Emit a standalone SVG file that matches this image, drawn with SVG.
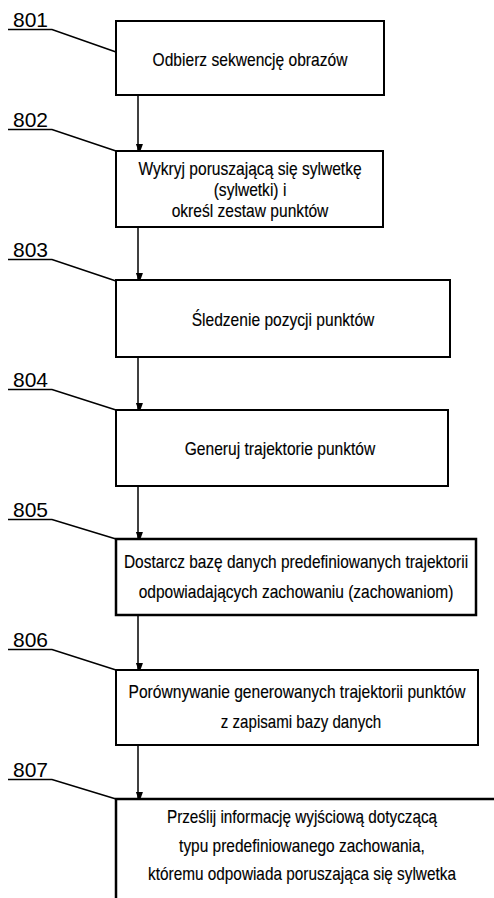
<svg xmlns="http://www.w3.org/2000/svg" width="494" height="898" viewBox="0 0 494 898">
<defs>
<style>
.box{fill:#fff;stroke:#000;stroke-width:2}
.t{font-family:"Liberation Sans",Arial,sans-serif;font-size:18px;fill:#000;text-anchor:middle;stroke:#000;stroke-width:0.15}
.lbl{font-family:"Liberation Sans",Arial,sans-serif;font-size:21px;fill:#000}
.ul{stroke:#000;stroke-width:1.6;fill:none}
.ar{stroke:#000;stroke-width:1.5;fill:none}
</style>
<marker id="ah" markerWidth="10" markerHeight="14" refX="10" refY="7" orient="auto" markerUnits="userSpaceOnUse" viewBox="0 0 14 10">
<path d="M0,0 L14,5 L0,10 Z" fill="#000"/>
</marker>
</defs>
<rect width="494" height="898" fill="#fff"/>
<g id="connectors">
<line class="ar" x1="138" y1="95" x2="138" y2="151" marker-end="url(#ah)"/>
<line class="ar" x1="138" y1="227" x2="138" y2="280" marker-end="url(#ah)"/>
<line class="ar" x1="138" y1="357" x2="138" y2="410" marker-end="url(#ah)"/>
<line class="ar" x1="138" y1="486" x2="138" y2="539" marker-end="url(#ah)"/>
<line class="ar" x1="138" y1="615" x2="138" y2="670" marker-end="url(#ah)"/>
<line class="ar" x1="138" y1="745" x2="138" y2="799" marker-end="url(#ah)"/>
</g>
<g id="n801">
<path class="ul" d="M8,29.5 H52 L116,52"/>
<text class="lbl" x="13" y="27">801</text>
<rect class="box" x="116" y="21" width="268" height="74"/>
<text class="t" transform="translate(250,66) scale(0.866,1)">Odbierz sekwencję obrazów</text>
</g>
<g id="n802">
<path class="ul" d="M8,129.5 H52 L116,151"/>
<text class="lbl" x="13" y="127">802</text>
<rect class="box" x="116" y="151" width="267" height="76"/>
<text class="t" transform="translate(250,175) scale(0.866,1)">Wykryj poruszającą się sylwetkę</text>
<text class="t" transform="translate(250,196) scale(0.866,1)">(sylwetki) i</text>
<text class="t" transform="translate(250,217) scale(0.866,1)">określ zestaw punktów</text>
</g>
<g id="n803">
<path class="ul" d="M8,259.5 H52 L116,281"/>
<text class="lbl" x="13" y="257">803</text>
<rect class="box" x="116" y="280" width="334" height="77"/>
<text class="t" transform="translate(283,326) scale(0.866,1)">Śledzenie pozycji punktów</text>
</g>
<g id="n804">
<path class="ul" d="M8,389.5 H52 L116,410"/>
<text class="lbl" x="13" y="387">804</text>
<rect class="box" x="116" y="410" width="332" height="76"/>
<text class="t" transform="translate(280,455) scale(0.866,1)">Generuj trajektorie punktów</text>
</g>
<g id="n805">
<path class="ul" d="M8,519.5 H52 L116,539"/>
<text class="lbl" x="13" y="517">805</text>
<rect class="box" x="116" y="539" width="360" height="76" style="stroke-width:2.5"/>
<text class="t" transform="translate(296,568) scale(0.858,1)">Dostarcz bazę danych predefiniowanych trajektorii</text>
<text class="t" transform="translate(296,598) scale(0.862,1)">odpowiadających zachowaniu (zachowaniom)</text>
</g>
<g id="n806">
<path class="ul" d="M8,649.5 H52 L116,670"/>
<text class="lbl" x="13" y="647">806</text>
<rect class="box" x="116" y="670" width="362" height="75"/>
<text class="t" transform="translate(297,698) scale(0.866,1)">Porównywanie generowanych trajektorii punktów</text>
<text class="t" transform="translate(301,728) scale(0.84,1)">z zapisami bazy danych</text>
</g>
<g id="n807">
<path class="ul" d="M8,779.5 H52 L116,799"/>
<text class="lbl" x="13" y="777">807</text>
<path d="M494,799 H116 V898" style="fill:#fff;stroke:#000;stroke-width:2.5"/>
<text class="t" transform="translate(302,823) scale(0.85,1)">Prześlij informację wyjściową dotyczącą</text>
<text class="t" transform="translate(302,852) scale(0.86,1)">typu predefiniowanego zachowania,</text>
<text class="t" transform="translate(302,880) scale(0.853,1)">któremu odpowiada poruszająca się sylwetka</text>
</g>
</svg>
